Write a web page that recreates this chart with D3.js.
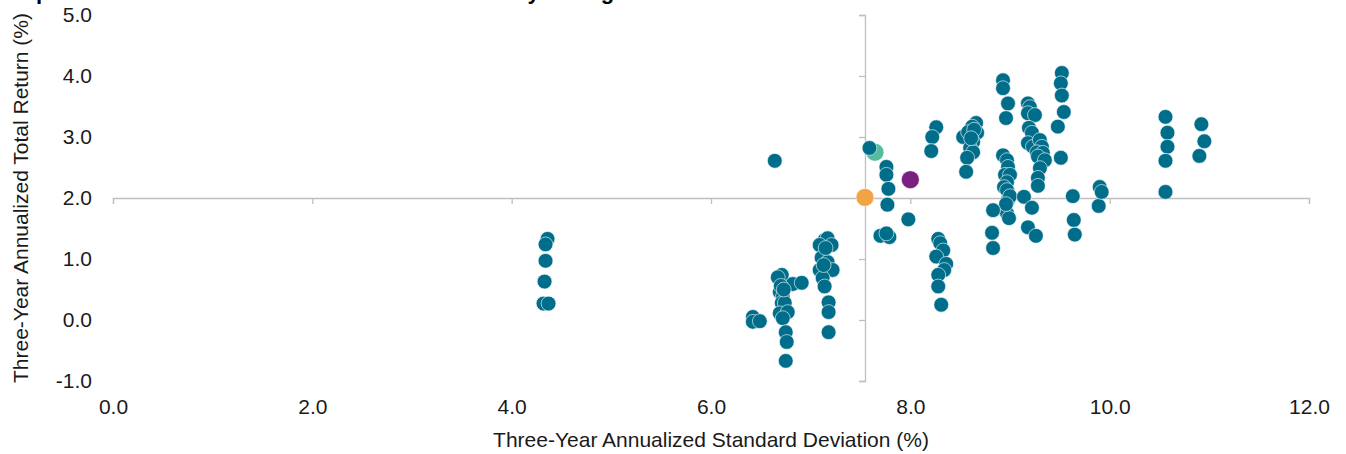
<!DOCTYPE html>
<html>
<head>
<meta charset="utf-8">
<script src="https://cdn.jsdelivr.net/npm/d3@7/dist/d3.min.js"></script>
<style>
  html, body { margin: 0; padding: 0; background: #ffffff; }
  svg { display: block; font-family: "Liberation Sans", Arial, sans-serif; }
</style>
</head>
<body>
<svg id="chart" width="1346" height="454"></svg>
<script>
// ---- Data ----
const titleText = "Open-End Funds: Risk and Return Distribution by Rating";
const xTickValues = [0, 2, 4, 6, 8, 10, 12];
const yTickValues = [-1, 0, 1, 2, 3, 4, 5];
const xAxisTitle = "Three-Year Annualized Standard Deviation (%)";
const yAxisTitle = "Three-Year Annualized Total Return (%)";

// Peer funds: three-year standard deviation (%)
const peerStdDev = [
  4.36, 4.34, 4.34, 4.33, 4.32, 4.37,
  6.42, 6.42, 6.49, 6.64,
  6.71, 6.67, 6.82, 6.91, 6.69, 6.72, 6.71, 6.74, 6.69, 6.77, 6.72, 6.75, 6.76, 6.75, 6.70, 6.73,
  7.14, 7.17, 7.09, 7.21, 7.11, 7.17, 7.09, 7.22, 7.12, 7.14, 7.18, 7.18, 7.18, 7.15, 7.13,
  7.59, 7.76, 7.76, 7.78, 7.77, 7.98, 7.70, 7.79, 7.76,
  8.26, 8.22, 8.21,
  8.28, 8.30, 8.33, 8.26, 8.36, 8.34, 8.28, 8.28, 8.31,
  8.66, 8.62, 8.53, 8.67, 8.58, 8.63, 8.60, 8.63, 8.57, 8.56, 8.64, 8.61,
  8.93, 8.93, 8.98, 8.96,
  8.93, 8.97, 8.98, 8.95, 9.00, 8.97, 8.94, 8.98, 8.97, 8.98, 8.95, 8.97, 8.99, 9.00, 8.96,
  8.83, 8.82, 8.83,
  9.18, 9.20, 9.18, 9.25, 9.19, 9.22, 9.18, 9.23, 9.30, 9.32, 9.27, 9.33, 9.28, 9.35, 9.30, 9.28, 9.28,
  9.14, 9.22, 9.18, 9.26,
  9.52, 9.51, 9.52, 9.54, 9.48, 9.51,
  9.63, 9.64, 9.65, 9.89, 9.90, 9.92,
  10.56, 10.58, 10.58, 10.56, 10.56,
  10.92, 10.95, 10.90
];
// Peer funds: three-year annualized total return (%)
const peerReturn = [
  1.33, 1.24, 0.97, 0.63, 0.27, 0.27,
  0.05, -0.03, -0.02, 2.61,
  0.74, 0.70, 0.59, 0.61, 0.46, 0.38, 0.28, 0.28, 0.11, 0.13, 0.03, -0.20, -0.36, -0.67, 0.56, 0.50,
  1.31, 1.34, 1.23, 1.23, 1.02, 0.95, 0.82, 0.82, 0.69, 0.55, 0.29, 0.13, -0.20, 1.18, 0.90,
  2.82, 2.51, 2.38, 2.15, 1.89, 1.65, 1.38, 1.36, 1.42,
  3.16, 3.00, 2.77,
  1.33, 1.26, 1.14, 1.04, 0.92, 0.82, 0.74, 0.55, 0.25,
  3.23, 3.17, 3.00, 3.07, 3.08, 2.92, 2.82, 2.75, 2.66, 2.43, 3.12, 2.98,
  3.93, 3.80, 3.55, 3.31,
  2.70, 2.62, 2.51, 2.38, 2.38, 2.26, 2.18, 2.10, 2.13, 1.97, 1.80, 1.75, 1.67, 2.03, 1.90,
  1.80, 1.43, 1.18,
  3.55, 3.49, 3.39, 3.36, 3.15, 3.07, 2.90, 2.84, 2.95, 2.84, 2.75, 2.74, 2.68, 2.62, 2.49, 2.33, 2.20,
  2.02, 1.84, 1.52, 1.38,
  4.05, 3.88, 3.68, 3.41, 3.17, 2.66,
  2.03, 1.64, 1.40, 1.87, 2.18, 2.10,
  3.33, 3.07, 2.84, 2.61, 2.10,
  3.21, 2.93, 2.69
];

// Highlighted points (drawn larger)
const highlightNames = ["Benchmark", "Fund A", "Fund B"];
const highlightStdDev = [7.545, 7.645, 8.00];
const highlightReturn = [2.01, 2.75, 2.30];
const highlightColors = ["#F2A444", "#55BC9D", "#781F80"];
const peerColor = "#006E8A";

// ---- Layout ----
const svg = d3.select("#chart");
const plot = { left: 113, right: 1309, top: 15, bottom: 381 };
const FS = 21;

const x = d3.scaleLinear().domain([0, 12]).range([plot.left, plot.right]);
const y = d3.scaleLinear().domain([-1, 5]).range([plot.bottom, plot.top]);

const crossX = highlightStdDev[0];
const crossY = 2;
const axisColor = "#BFBFBF";
const fmt = v => d3.format(".1f")(v).replace("\u2212", "-");

// Title (mostly clipped above the visible area, as in the reference)
svg.append("text")
  .attr("x", 19).attr("y", -1)
  .attr("font-size", 22).attr("font-weight", "bold").attr("fill", "#000")
  .text(titleText);

// X axis line crossing at return = 2.0
const gx = svg.append("g")
  .attr("transform", `translate(0,${y(crossY)})`)
  .call(d3.axisBottom(x).tickValues(xTickValues).tickSize(6).tickFormat(""));
gx.selectAll("path, line").attr("stroke", axisColor).attr("stroke-width", 1.3);

// Y axis line crossing at benchmark std dev
const gy = svg.append("g")
  .attr("transform", `translate(${x(crossX)},0)`)
  .call(d3.axisLeft(y).tickValues(yTickValues).tickSize(6).tickFormat(""));
gy.selectAll("path, line").attr("stroke", axisColor).attr("stroke-width", 1.3);

// X tick labels at bottom
const gxl = svg.append("g")
  .attr("transform", `translate(0,${plot.bottom + 15})`)
  .call(d3.axisBottom(x).tickValues(xTickValues).tickSize(0).tickFormat(fmt));
gxl.select(".domain").remove();
gxl.selectAll("text").attr("font-size", FS).attr("fill", "#1a1a1a")
  .attr("font-family", "'Liberation Sans', Arial, sans-serif");

// Y tick labels at left
const gyl = svg.append("g")
  .attr("transform", `translate(${plot.left - 18},0)`)
  .call(d3.axisLeft(y).tickValues(yTickValues).tickSize(0).tickFormat(fmt));
gyl.select(".domain").remove();
gyl.selectAll("text").attr("font-size", FS).attr("fill", "#1a1a1a")
  .attr("font-family", "'Liberation Sans', Arial, sans-serif");

// Axis titles
svg.append("text")
  .attr("x", 711).attr("y", 447)
  .attr("text-anchor", "middle").attr("font-size", FS).attr("fill", "#1a1a1a")
  .text(xAxisTitle);
svg.append("text")
  .attr("transform", `translate(28,${y(crossY)}) rotate(-90)`)
  .attr("text-anchor", "middle").attr("font-size", FS).attr("fill", "#1a1a1a")
  .text(yAxisTitle);

// Highlights first (peer dots sit over them where they overlap)
svg.append("g").selectAll("circle")
  .data(highlightNames.map((n, i) => ({ n, sd: highlightStdDev[i], r: highlightReturn[i], c: highlightColors[i] })))
  .join("circle")
  .attr("cx", d => x(d.sd)).attr("cy", d => y(d.r)).attr("r", 9)
  .attr("fill", d => d.c).attr("stroke", "#fff").attr("stroke-width", 0.6);

// Peer dots
svg.append("g").selectAll("circle")
  .data(peerStdDev.map((sd, i) => ({ sd, r: peerReturn[i] })))
  .join("circle")
  .attr("cx", d => x(d.sd)).attr("cy", d => y(d.r)).attr("r", 7.4)
  .attr("fill", peerColor).attr("stroke", "#fff").attr("stroke-width", 0.6);
</script>
</body>
</html>
